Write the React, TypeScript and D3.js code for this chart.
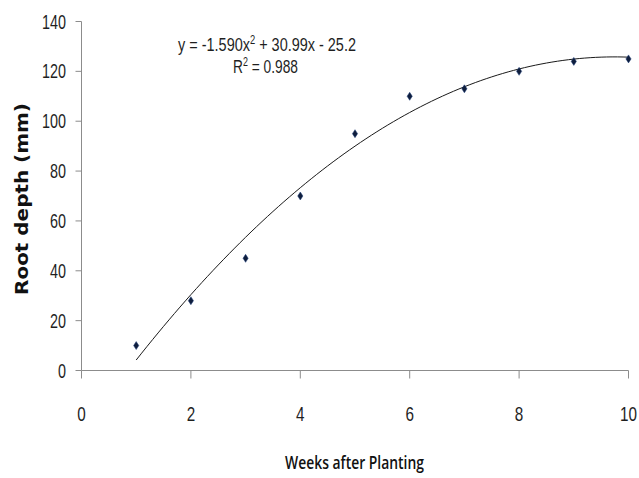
import React, { useEffect, useRef } from "react";
import * as d3 from "d3";

const weeks = [1, 2, 3, 4, 5, 6, 7, 8, 9, 10];
const rootDepth = [10, 28, 45, 70, 95, 110, 113, 120, 124, 125];
const trendCoef = [-1.59, 30.99, -25.2]; // a x^2 + b x + c, from the displayed equation
const xTicks = [0, 2, 4, 6, 8, 10];
const yTicks = [0, 20, 40, 60, 80, 100, 120, 140];
const equationText = "y = -1.590x";
const equationRest = " + 30.99x - 25.2";
const r2Label = "R";
const r2Rest = " = 0.988";
const xTitle = "Weeks after Planting";
const yTitle = "Root depth (mm)";

const W = 639;
const H = 478;

export default function App() {
  const ref = useRef<SVGSVGElement | null>(null);

  useEffect(() => {
    const svg = d3.select(ref.current);
    svg.selectAll("*").remove();

    const x = d3.scaleLinear().domain([0, 10]).range([81.5, 628.5]);
    const y = d3.scaleLinear().domain([0, 140]).range([370.5, 21.5]);
    const axisColor = "#8c8c8c";
    const textColor = "#1f1f1f";
    const font = "'Liberation Sans', Arial, sans-serif";

    // fit a text element horizontally to a target width around its anchor
    const fit = (t: any, cx: number, cy: number, target: number, rotate = 0) => {
      const node = t.node() as SVGTextElement;
      const w = node.getComputedTextLength();
      const s = w > 0 ? target / w : 1;
      t.attr("transform", `translate(${cx},${cy}) rotate(${rotate}) scale(${s},1)`);
      return s;
    };

    // Y axis
    svg.append("line")
      .attr("x1", x(0)).attr("x2", x(0))
      .attr("y1", y(140)).attr("y2", y(0))
      .attr("stroke", axisColor).attr("stroke-width", 1);
    // X axis
    svg.append("line")
      .attr("x1", x(0)).attr("x2", x(10))
      .attr("y1", y(0)).attr("y2", y(0))
      .attr("stroke", axisColor).attr("stroke-width", 1);

    // y ticks
    svg.selectAll(".yt").data(yTicks).enter().append("line")
      .attr("x1", x(0) - 6).attr("x2", x(0))
      .attr("y1", (d) => y(d)).attr("y2", (d) => y(d))
      .attr("stroke", axisColor);
    // x ticks
    svg.selectAll(".xt").data(xTicks).enter().append("line")
      .attr("x1", (d) => x(d)).attr("x2", (d) => x(d))
      .attr("y1", y(0)).attr("y2", y(0) + 8)
      .attr("stroke", axisColor);

    // y tick labels
    yTicks.forEach((v) => {
      const t = svg.append("text")
        .attr("text-anchor", "end")
        .attr("font-family", font)
        .attr("font-size", 19.5)
        .attr("fill", textColor)
        .text(String(v));
      fit(t, 66, y(v) + 7, String(v).length * 8);
    });
    // x tick labels
    xTicks.forEach((v) => {
      const t = svg.append("text")
        .attr("text-anchor", "middle")
        .attr("font-family", font)
        .attr("font-size", 19.5)
        .attr("fill", textColor)
        .text(String(v));
      fit(t, x(v), 421, String(v).length * 8.5);
    });

    // Trendline
    const curvePts = d3.range(1, 10.0001, 0.1).map((xx) => [
      xx,
      trendCoef[0] * xx * xx + trendCoef[1] * xx + trendCoef[2],
    ]);
    svg.append("path")
      .datum(curvePts)
      .attr("d", d3.line<number[]>().x((d) => x(d[0])).y((d) => y(d[1])).curve(d3.curveMonotoneX))
      .attr("fill", "none")
      .attr("stroke", "#1a1a1a")
      .attr("stroke-width", 1);

    // Markers (diamonds)
    svg.selectAll(".pt").data(weeks).enter().append("path")
      .attr("d", (d, i) => {
        const cx = x(d), cy = y(rootDepth[i]);
        return `M${cx},${cy - 4}L${cx + 2.6},${cy}L${cx},${cy + 4}L${cx - 2.6},${cy}Z`;
      })
      .attr("fill", "#0f1e3d")
      .attr("stroke", "#1d3c78")
      .attr("stroke-width", 0.5);

    // Equation
    const eq = svg.append("text")
      .attr("text-anchor", "middle")
      .attr("font-family", font)
      .attr("font-size", 18.5)
      .attr("fill", textColor);
    eq.append("tspan").text(equationText);
    eq.append("tspan").attr("font-size", 12).attr("dy", -7).text("2");
    eq.append("tspan").attr("dy", 7).text(equationRest);
    fit(eq, 267, 51, 178);

    const r2 = svg.append("text")
      .attr("text-anchor", "middle")
      .attr("font-family", font)
      .attr("font-size", 18.5)
      .attr("fill", textColor);
    r2.append("tspan").text(r2Label);
    r2.append("tspan").attr("font-size", 12).attr("dy", -7).text("2");
    r2.append("tspan").attr("dy", 7).text(r2Rest);
    fit(r2, 265.5, 73, 65);

    // X title
    const xt = svg.append("text")
      .attr("text-anchor", "middle")
      .attr("font-family", "'Open Sans', sans-serif")
      .attr("font-weight", 600)
      .attr("font-size", 18)
      .attr("fill", "#111")
      .text(xTitle);
    fit(xt, 354.5, 468.5, 139);

    // Y title
    const yt = svg.append("text")
      .attr("text-anchor", "middle")
      .attr("font-family", "'DejaVu Sans', Verdana, sans-serif")
      .attr("font-weight", "bold")
      .attr("font-size", 17)
      .attr("fill", "#111")
      .text(yTitle);
    fit(yt, 28, 199, 192, -90);
  }, []);

  return (
    <svg
      ref={ref}
      width={W}
      height={H}
      style={{ position: "absolute", left: 0, top: 0, background: "#fff" }}
    />
  );
}
